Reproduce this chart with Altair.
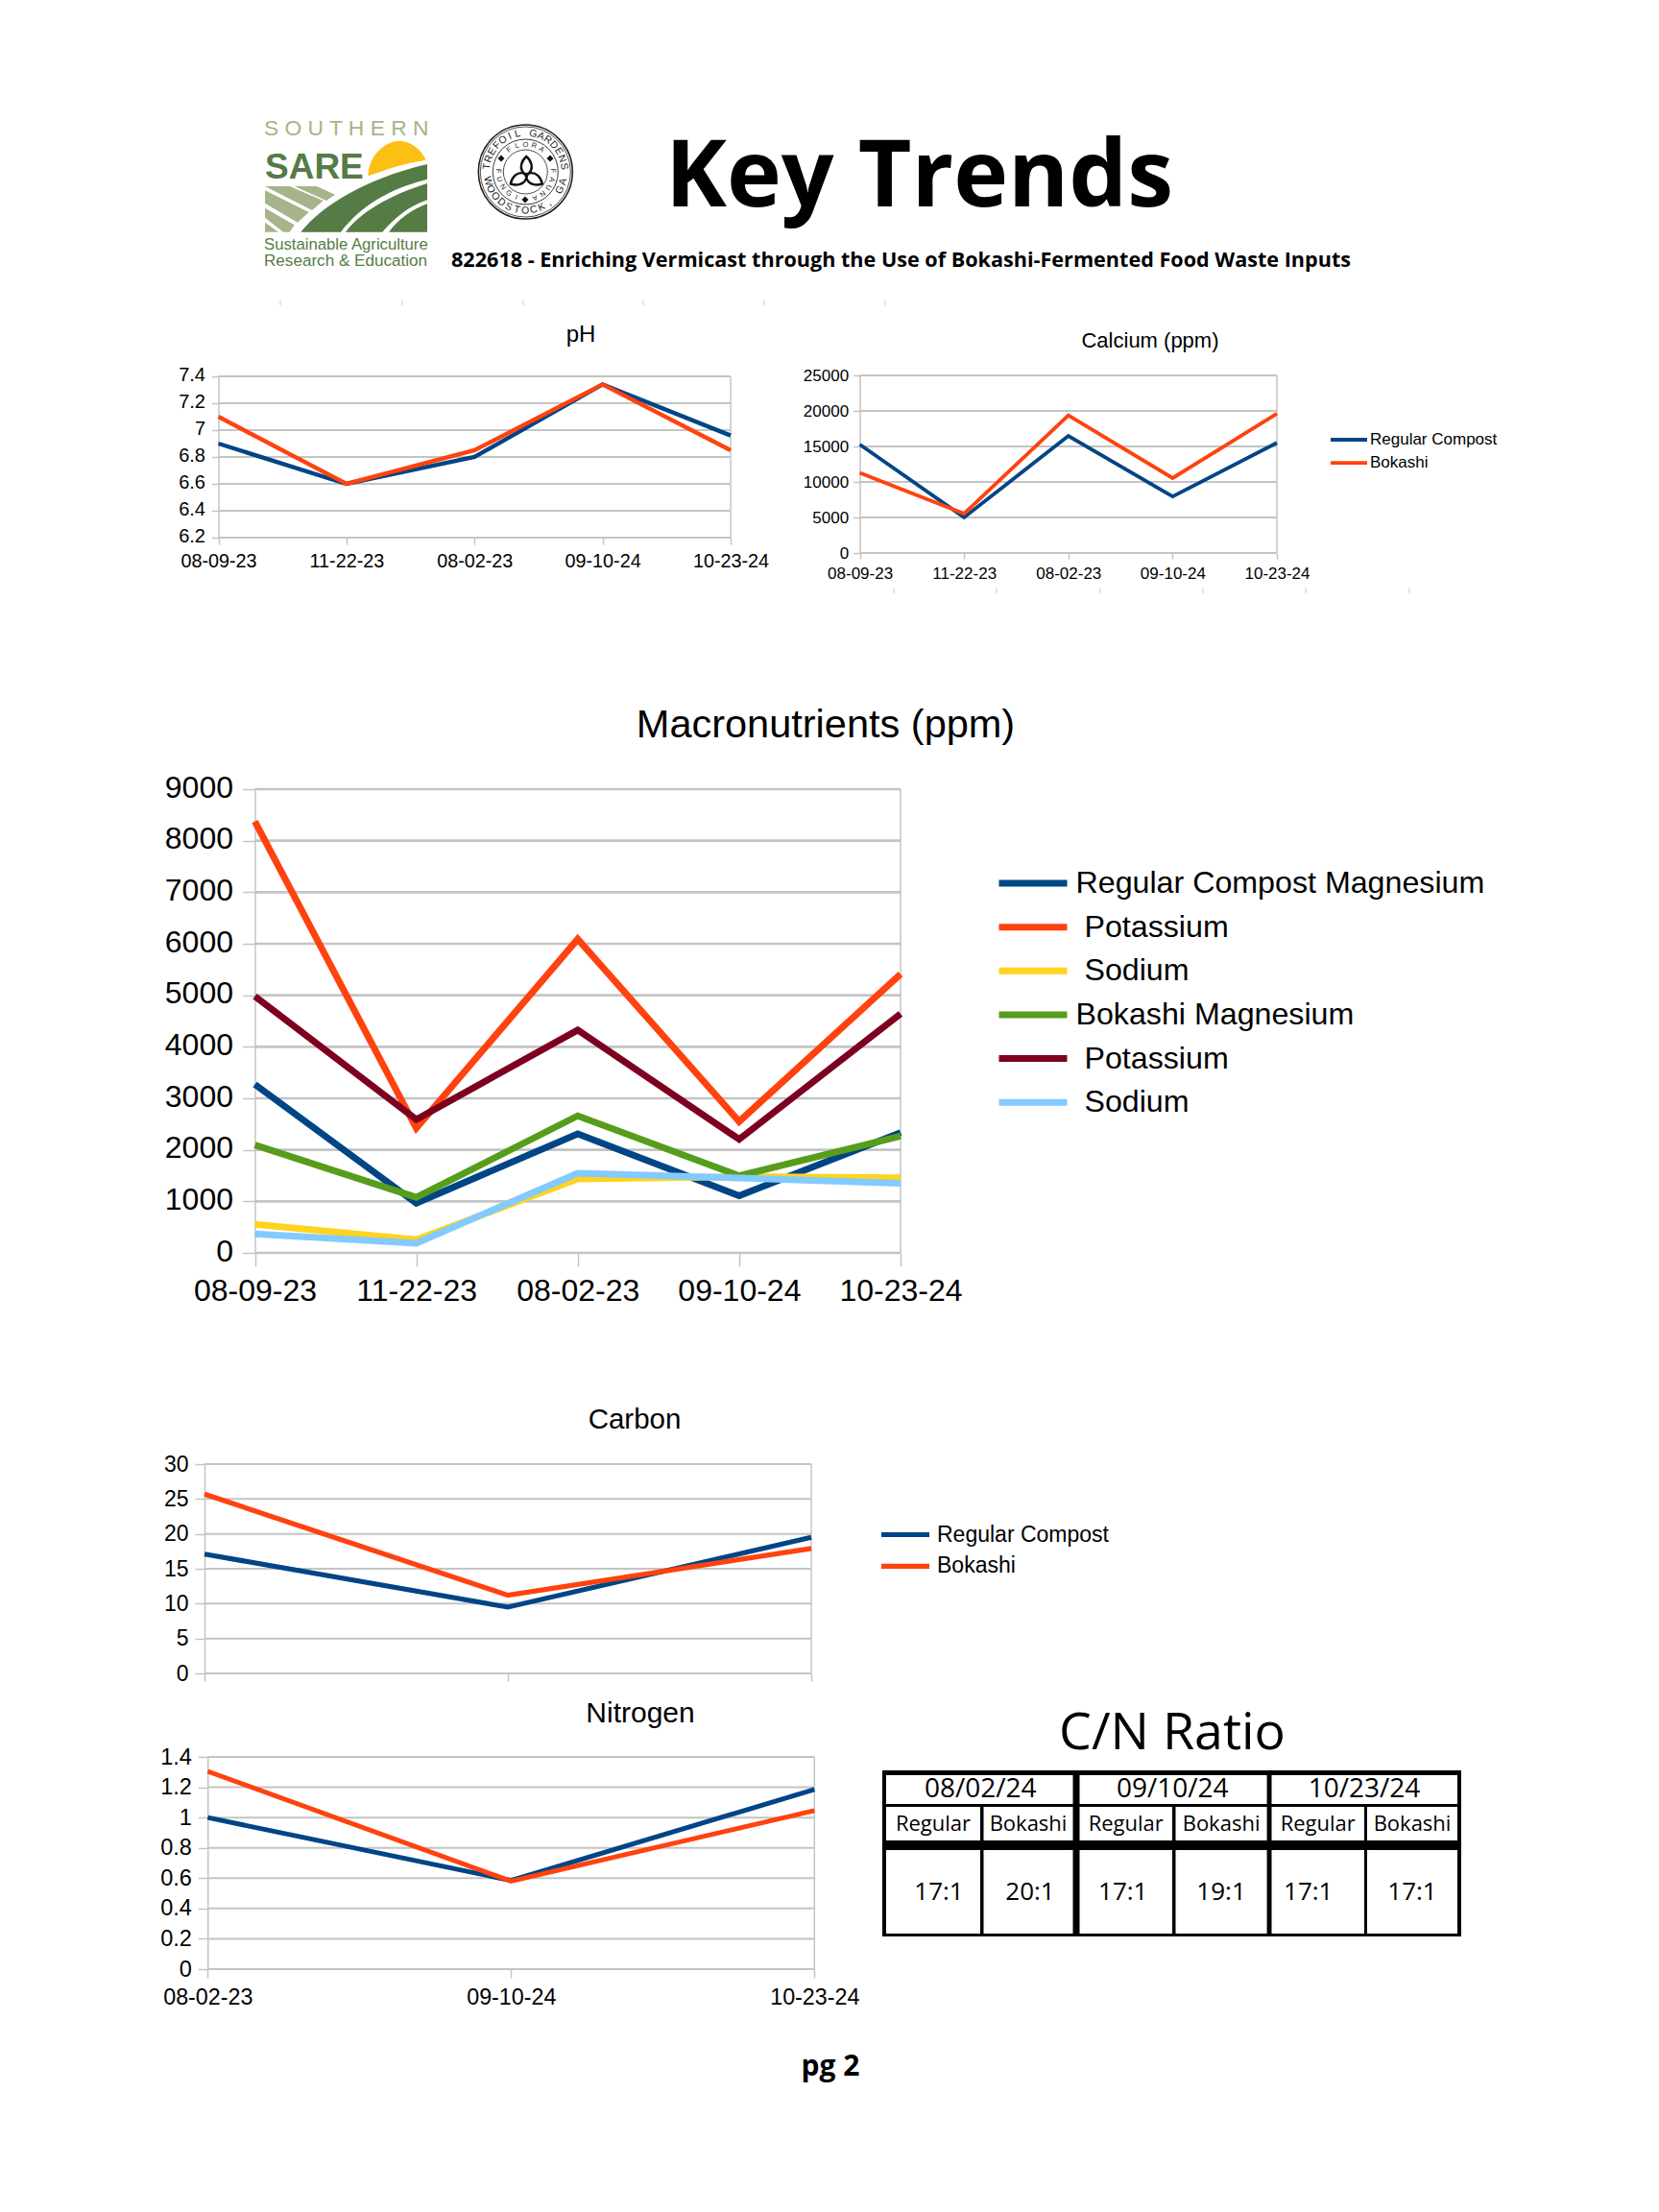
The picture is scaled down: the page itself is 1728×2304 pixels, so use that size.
import math, re
import altair as alt
import pandas as pd

# ---------- data ----------
DATES5 = ["08-09-23", "11-22-23", "08-02-23", "09-10-24", "10-23-24"]
DATES3 = ["08-02-23", "09-10-24", "10-23-24"]
BLUE, ORANGE, YELLOW, GREEN, MAROON, SKY = "#004586", "#ff420e", "#ffd320", "#579d1c", "#7e0021", "#83caff"

PH_REG = [6.9, 6.6, 6.8, 7.34, 6.96]
PH_BOK = [7.1, 6.6, 6.85, 7.34, 6.85]
CA_REG = [15270, 5010, 16470, 7950, 15510]
CA_BOK = [11270, 5540, 19360, 10550, 19600]
MG_REG = [3270, 965, 2310, 1110, 2335]
K_REG = [8375, 2420, 6090, 2550, 5410]
NA_REG = [555, 256, 1435, 1480, 1460]
MG_BOK = [2095, 1077, 2660, 1495, 2265]
K_BOK = [4980, 2590, 4325, 2205, 4640]
NA_BOK = [367, 188, 1547, 1453, 1350]
C_REG = [17.1, 9.5, 19.5]
C_BOK = [25.7, 11.2, 17.9]
N_REG = [1.0, 0.585, 1.185]
N_BOK = [1.305, 0.58, 1.046]

TABLE_DATES = ["08/02/24", "09/10/24", "10/23/24"]
TABLE_KINDS = ["Regular", "Bokashi"] * 3
TABLE_RATIOS = ["17:1", "20:1", "17:1", "19:1", "17:1", "17:1"]
RATIO_NUDGE = [6, 2, -3, 0, -10, 0]

FONT = "Liberation Sans"
CANVAS = "Open Sans"
W, H = 1712, 2288
layers = []


def px(v):
    return v - 8


def text(s, x, y, size, font=FONT, weight="normal", color="#000000", align="left", baseline="alphabetic", angle=None):
    kw = {} if angle is None else {"angle": angle % 360}
    layers.append(
        alt.Chart().mark_text(text=s, font=font, fontSize=size, fontWeight=weight, color=color,
                              align=align, baseline=baseline, **kw)
        .encode(x=alt.value(px(x)), y=alt.value(px(y)))
    )


def panel(title, title_xy, title_size, dates, series, lo, hi, ticks, box, stroke, grid_w,
          x_font, y_font, x_tick, y_tick, x_pad, y_pad, y_off=0, x_labels=True, legend=None):
    l, t, r, b = box
    xs = alt.Scale(type="point", domain=dates, range=[px(l), px(r)], padding=0)
    ys = alt.Scale(type="linear", domain=[lo, hi], range=[px(b), px(t)], nice=False, zero=False)
    # grid
    grid = pd.DataFrame({"v": ticks, "a": dates[0], "b": dates[-1]})
    layers.append(
        alt.Chart(grid).mark_rule(color="#c4c4c4", strokeWidth=grid_w).encode(
            y=alt.Y("v:Q", scale=ys, axis=None),
            x=alt.X("a:N", scale=xs, axis=None),
            x2="b:N",
        )
    )
    edge = pd.DataFrame({"d": [dates[-1]], "lo": [lo], "hi": [hi]})
    layers.append(
        alt.Chart(edge).mark_rule(color="#c4c4c4", strokeWidth=1.5).encode(
            x=alt.X("d:N", scale=xs, axis=None),
            y=alt.Y("lo:Q", scale=ys, axis=None),
            y2="hi:Q",
        )
    )
    names = [s[0] for s in series]
    rows = [{"date": d, "series": n, "value": v} for n, vals, _ in series for d, v in zip(dates, vals)]
    colors = [s[2] for s in series]
    layers.append(
        alt.Chart(pd.DataFrame(rows)).mark_line(strokeWidth=stroke, strokeJoin="miter").encode(
            x=alt.X("date:N", sort=dates, scale=xs, title=None,
                    axis=alt.Axis(orient="bottom", offset=-(H - px(b)), labelAngle=0, grid=False, domain=False,
                                  tickColor="#c4c4c4", tickWidth=1.5, tickSize=x_tick, labels=x_labels,
                                  labelFont=FONT, labelFontSize=x_font, labelColor="#000000",
                                  labelPadding=x_pad, labelOverlap=False, labelFlush=False)),
            y=alt.Y("value:Q", scale=ys, title=None,
                    axis=alt.Axis(orient="left", offset=-px(l), values=ticks, format=".7~g", grid=False,
                                  domainColor="#c4c4c4", domainWidth=1.5, tickColor="#c4c4c4", tickWidth=1.5,
                                  tickSize=y_tick, labelFont=FONT, labelFontSize=y_font, labelColor="#000000",
                                  labelPadding=y_pad, labelOverlap=False, labelFlush=False, labelOffset=y_off)),
            color=alt.Color("series:N", scale=alt.Scale(domain=names, range=colors), legend=legend),
        )
    )
    text(title, title_xy[0], title_xy[1], title_size, align="center", baseline="middle")


def stroke_legend(x, y, length, sw, size, row, label_off, expr=None):
    kw = {} if expr is None else {"labelExpr": expr}
    return alt.Legend(orient="none", legendX=px(x), legendY=px(y - row * 0.36), title=None, symbolType="stroke",
                      symbolSize=length * length, symbolStrokeWidth=sw, labelFont=FONT, labelFontSize=size,
                      labelColor="#000000", labelLimit=800, labelOffset=label_off, clipHeight=row * 0.72,
                      rowPadding=row * 0.28, padding=0, **kw)


# ---------- faint print artefacts ----------
for x in [292, 419, 545, 670, 796, 922]:
    layers.append(alt.Chart().mark_rule(color="#dcdcdc", strokeWidth=1.5).encode(
        x=alt.value(px(x)), y=alt.value(px(313)), y2=alt.value(px(318))))
for x in [931, 1038, 1146, 1253, 1360, 1468]:
    layers.append(alt.Chart().mark_rule(color="#dcdcdc", strokeWidth=1.5).encode(
        x=alt.value(px(x)), y=alt.value(px(612)), y2=alt.value(px(618))))

# ---------- header ----------
text("Key Trends", 693, 215, 96.3, font=CANVAS, weight="bold")
text("822618 - Enriching Vermicast through the Use of Bokashi-Fermented Food Waste Inputs", 470, 278, 21.6,
     font=CANVAS, weight="bold")


def logo(path, color):
    nums = iter(re.findall(r"[A-Za-z]|-?\d+\.?\d*", path))
    out, axis = [], 0
    for tok in nums:
        if tok.isalpha():
            out.append(tok)
        else:
            v = float(tok)
            c = 286 if axis == 0 else 236
            out.append(f"{(v - c) / 254:.4f}")
            axis = 1 - axis
    d = " ".join(out)
    layers.append(alt.Chart().mark_point(shape=d, filled=True, fill=color, stroke=None, opacity=1,
                                         size=(2 * 254 / 3) ** 2).encode(
        x=alt.value(px(265 + 286 / 3)), y=alt.value(px(115 + 236 / 3))))


SUN, DARK, LIGHT = "#fcc015", "#557c45", "#a5b48b"
logo("M355 205 C358 130 420 95 450 95 C490 95 525 125 535 155 C470 165 410 185 355 205 Z", SUN)
logo("M145 380 C210 300 340 215 540 168 L540 215 C420 245 330 300 270 380 Z", DARK)
logo("M285 380 C330 320 420 265 540 228 L540 280 C480 300 440 335 400 380 Z", DARK)
logo("M420 380 C450 340 490 310 540 292 L540 380 Z", DARK)
logo("M33 237 L110 237 L215 282 L180 312 Z", LIGHT)
logo("M125 237 L195 237 L252 263 L225 282 Z", LIGHT)
logo("M33 250 L170 318 L135 350 L33 290 Z", LIGHT)
logo("M33 305 L125 358 L110 380 L90 380 L33 335 Z", LIGHT)
logo("M33 350 L75 380 L33 380 Z", LIGHT)
text("S O U T H E R N", 275, 141, 22.8, color="#a5b48b")
text("SARE", 276, 186, 37, weight="bold", color=DARK)
text("Sustainable Agriculture", 275, 260, 16.7, color=DARK)
text("Research & Education", 275, 277, 17.1, color=DARK)

# seal
CX, CY = 547.3, 179
for r, sw in [(49, 1.6), (47, 0.8), (34, 0.9), (23, 0.8)]:
    layers.append(alt.Chart().mark_point(shape="circle", size=(2 * r) ** 2, color="#222222", strokeWidth=sw,
                                         filled=False, opacity=1).encode(x=alt.value(px(CX)), y=alt.value(px(CY))))


def ring(s, start, step, r, size, bottom=False):
    for i, ch in enumerate(s):
        if ch == " ":
            continue
        a = start + i * step
        rad = math.radians(a)
        text(ch, CX + r * math.sin(rad), CY - r * math.cos(rad), size, color="#222222", align="center",
             baseline="middle", angle=(a + 180) if bottom else a)


ring("TREFOIL GARDENS", -82, 11.7, 40.5, 10.5)
ring("WOODSTOCK, GA", 256, -12.6, 40.5, 10.5, bottom=True)
ring("FLORA", -36, 18, 28.5, 7.5)
ring("FAUNA", 88, 18, 28.5, 7.5)
ring("FUNGI", 272, -18, 28.5, 7.5, bottom=True)
for ang in [0, 120, 240]:
    pts = [(0, 0.05), (-0.55, -0.35), (-0.18, -0.85), (0, -1), (0.18, -0.85), (0.55, -0.35), (0, 0.05)]
    c, s = math.cos(math.radians(ang)), math.sin(math.radians(ang))
    q = [(x * c - y * s, x * s + y * c) for x, y in pts]
    d = f"M{q[0][0]:.3f} {q[0][1]:.3f} C" + " ".join(f"{x:.3f} {y:.3f}" for x, y in q[1:4]) + " C" + " ".join(
        f"{x:.3f} {y:.3f}" for x, y in q[4:]) + " Z"
    layers.append(alt.Chart().mark_point(shape=d, filled=False, stroke="#111111", strokeWidth=2.4, opacity=1,
                                         size=38 * 38).encode(x=alt.value(px(CX + 1)), y=alt.value(px(CY + 3))))
for a, b in [(522, 165), (573, 165), (547, 208)]:
    layers.append(alt.Chart().mark_point(shape="diamond", filled=True, color="#111111", opacity=1, size=50).encode(
        x=alt.value(px(a)), y=alt.value(px(b))))

# ---------- panels ----------
panel("pH", (605, 349), 24, DATES5,
      [("Regular Compost", PH_REG, BLUE), ("Bokashi", PH_BOK, ORANGE)],
      6.2, 7.4, [6.2, 6.4, 6.6, 6.8, 7, 7.2, 7.4], (227.5, 392, 761, 560), 4.4, 2,
      19.8, 20, 7, 7, 7, 7, y_off=-1.5)
panel("Calcium (ppm)", (1198, 355), 22, DATES5,
      [("Regular Compost", CA_REG, BLUE), ("Bokashi", CA_BOK, ORANGE)],
      0, 25000, [0, 5000, 10000, 15000, 20000, 25000], (895.6, 391, 1330, 576), 3.8, 2,
      17, 17, 6, 7, 7, 5,
      legend=stroke_legend(1384, 458, 38, 3.8, 17, 22, 1))
macro_expr = ("indexof(datum.label, 'Magnesium') >= 0 ? datum.label : "
              "'\u200b\u00a0' + split(datum.label, ' ')[length(split(datum.label, ' ')) - 1]")
panel("Macronutrients (ppm)", (860, 755.5), 41.5, DATES5,
      [("Regular Compost Magnesium", MG_REG, BLUE), ("Regular Compost Potassium", K_REG, ORANGE),
       ("Regular Compost Sodium", NA_REG, YELLOW), ("Bokashi Magnesium", MG_BOK, GREEN),
       ("Bokashi Potassium", K_BOK, MAROON), ("Bokashi Sodium", NA_BOK, SKY)],
      0, 9000, list(range(0, 9001, 1000)), (265.5, 822, 938, 1305), 7, 2.6,
      32, 32, 14, 13, 10, 10, y_off=-2,
      legend=stroke_legend(1037, 920, 71, 7, 32.2, 45.1, 5.5, macro_expr))
panel("Carbon", (661, 1479), 29.5, DATES3,
      [("Regular Compost", C_REG, BLUE), ("Bokashi", C_BOK, ORANGE)],
      0, 30, [0, 5, 10, 15, 20, 25, 30], (213, 1525, 845, 1743), 5.2, 2,
      23, 23, 8, 10, 8, 7, x_labels=False,
      legend=stroke_legend(915, 1598.5, 50, 5.2, 23, 32, 5))
panel("Nitrogen", (667, 1784.5), 30, DATES3,
      [("Regular Compost", N_REG, BLUE), ("Bokashi", N_BOK, ORANGE)],
      0, 1.4, [0, 0.2, 0.4, 0.6, 0.8, 1, 1.2, 1.4], (216.3, 1830, 848.3, 2051), 5, 2,
      23.3, 23.5, 9, 10, 9, 7)

# ---------- C/N table ----------
X_EDGES = [923, 1021, 1024.5, 1117.5, 1124.5, 1221, 1224.5, 1319.6, 1324.5, 1421, 1424, 1518]
Y_EDGES = [1849, 1879, 1882, 1917, 1927, 2014]
tx = alt.Scale(type="linear", domain=[-1] + list(range(12)) + [12], range=[px(v) for v in [919] + X_EDGES + [1522]],
               nice=False, zero=False)
ty = alt.Scale(type="linear", domain=[-1] + list(range(6)) + [6], range=[px(v) for v in [1844] + Y_EDGES + [2017]],
               nice=False, zero=False)


def cell_rect(df, color):
    return alt.Chart(df).mark_rect(color=color).encode(
        x=alt.X("x0:Q", scale=tx, axis=None), x2="x1:Q",
        y=alt.Y("y0:Q", scale=ty, axis=None), y2="y1:Q")


layers.append(cell_rect(pd.DataFrame([{"x0": -1, "x1": 12, "y0": -1, "y1": 6}]), "#000000"))
cells = [{"x0": 4 * k, "x1": 4 * k + 3, "y0": 0, "y1": 1} for k in range(3)]
cells += [{"x0": 2 * i, "x1": 2 * i + 1, "y0": 2, "y1": 3} for i in range(6)]
cells += [{"x0": 2 * i, "x1": 2 * i + 1, "y0": 4, "y1": 5} for i in range(6)]
layers.append(cell_rect(pd.DataFrame(cells), "#ffffff"))


def cell_text(df, size, dx=0):
    return alt.Chart(df).mark_text(font=CANVAS, fontSize=size, color="#000000", align="center", baseline="middle",
                                   dx=dx).encode(
        x=alt.X("x:Q", scale=tx, axis=None), y=alt.Y("y:Q", scale=ty, axis=None), text="t:N")


layers.append(cell_text(pd.DataFrame({"x": [4 * k + 1.5 for k in range(3)], "y": [0.5] * 3, "t": TABLE_DATES}), 28,
                        dx=-1.5))
layers.append(cell_text(pd.DataFrame({"x": [2 * i + 0.5 for i in range(6)], "y": [2.5] * 6, "t": TABLE_KINDS}), 22))
for i, (t, n) in enumerate(zip(TABLE_RATIOS, RATIO_NUDGE)):
    layers.append(cell_text(pd.DataFrame({"x": [2 * i + 0.5], "y": [4.5], "t": [t]}), 26, dx=n))

text("C/N Ratio", 1221, 1821.5, 53.7, font=CANVAS, align="center")
text("pg 2", 865, 2162, 30, font=CANVAS, weight="bold", align="center")

chart = (
    alt.layer(*layers)
    .resolve_scale(x="independent", y="independent", color="independent")
    .resolve_axis(x="independent", y="independent")
    .resolve_legend(color="independent")
    .properties(width=W, height=H, padding=0, background="#ffffff", autosize=alt.AutoSizeParams(type="none"))
    .configure_view(stroke=None)
)
chart.save("out.html", embed_options={"renderer": "svg", "actions": False})
